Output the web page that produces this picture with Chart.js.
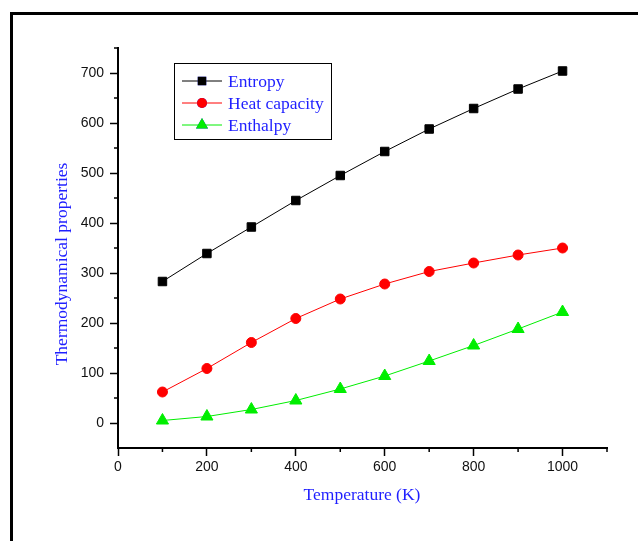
<!DOCTYPE html>
<html lang="en">
<head>
    <meta charset="UTF-8" />
    <title>Thermodynamical properties</title>
    <script src="https://cdn.jsdelivr.net/npm/chart.js"></script>
    <style>
        html, body { margin: 0; padding: 0; background: #fff; }
        #wrap { position: relative; width: 638px; height: 541px; }
    </style>
</head>
<body>
<div id="wrap"><canvas id="thermoChart" width="638" height="541"></canvas></div>

<script>
    // data
    const temperatures = [100, 200, 300, 400, 500, 600, 700, 800, 900, 1000];
    const entropy = [283, 339, 392, 445, 495, 543, 588, 629, 668, 704];
    const heatCapacity = [62, 109, 161, 209, 248, 278, 303, 320, 336, 350];
    const enthalpy = [5, 13, 27, 45, 68, 94, 124, 155, 188, 222];

    const xTicks = [0, 200, 400, 600, 800, 1000];
    const xMinorTicks = [100, 300, 500, 700, 900, 1100];
    const yTicks = [0, 100, 200, 300, 400, 500, 600, 700];
    const yMinorTicks = [50, 150, 250, 350, 450, 550, 650, 750];

    const blue = "#1f1fff";
    const serif = "17.5px 'Liberation Serif', 'Times New Roman', serif";

    // minor ticks, axis titles, legend box and the outer frame
    const extras = {
        id: "extras",
        afterDraw(chart) {
            const ctx = chart.ctx;
            const xs = chart.scales.x, ys = chart.scales.y;
            ctx.save();
            ctx.strokeStyle = "#000";
            ctx.lineWidth = 1.5;
            ctx.beginPath();
            xMinorTicks.forEach(v => {
                const px = xs.getPixelForValue(v);
                ctx.moveTo(px, xs.top);
                ctx.lineTo(px, xs.top + 4);
            });
            yMinorTicks.forEach(v => {
                const py = ys.getPixelForValue(v);
                ctx.moveTo(ys.right, py);
                ctx.lineTo(ys.right - 4, py);
            });
            ctx.stroke();

            // axis titles
            ctx.fillStyle = blue;
            ctx.font = serif;
            ctx.textAlign = "center";
            ctx.textBaseline = "middle";
            ctx.fillText("Temperature (K)", 362, 495);
            ctx.save();
            ctx.translate(62, 264);
            ctx.rotate(-Math.PI / 2);
            ctx.fillText("Thermodynamical properties", 0, 0);
            ctx.restore();

            // legend
            ctx.strokeStyle = "#000";
            ctx.lineWidth = 1;
            ctx.strokeRect(174.5, 63.5, 157, 76);
            ctx.textAlign = "left";
            chart.data.datasets.forEach((ds, i) => {
                const ly = 81 + i * 22;
                ctx.strokeStyle = ds.borderColor;
                ctx.lineWidth = 1;
                ctx.beginPath();
                ctx.moveTo(182, ly);
                ctx.lineTo(222, ly);
                ctx.stroke();
                Chart.helpers.drawPoint(ctx, {
                    pointStyle: ds.pointStyle,
                    radius: ds.pointRadius,
                    borderWidth: 0
                }, 202, ly);
                ctx.fillStyle = ds.pointBackgroundColor;
                ctx.fill();
                ctx.fillStyle = blue;
                ctx.fillText(ds.label, 228, ly + 1);
            });

            // frame around the figure
            ctx.strokeStyle = "#000";
            ctx.lineWidth = 3;
            ctx.beginPath();
            ctx.moveTo(11.5, 541);
            ctx.lineTo(11.5, 13.5);
            ctx.lineTo(638, 13.5);
            ctx.stroke();
            ctx.restore();
        }
    };

    const tickFont = { family: "'Liberation Sans', Arial, sans-serif", size: 14 };

    new Chart(document.getElementById("thermoChart"), {
        type: "line",
        data: {
            labels: temperatures,
            datasets: [{
                label: "Entropy",
                data: entropy,
                borderColor: "#000",
                pointBackgroundColor: "#000",
                pointBorderColor: "#000",
                pointStyle: "rect",
                pointRadius: 6,
                borderWidth: 1
            }, {
                label: "Heat capacity",
                data: heatCapacity,
                borderColor: "#ff0000",
                pointBackgroundColor: "#ff0000",
                pointBorderColor: "#ff0000",
                pointStyle: "circle",
                pointRadius: 5,
                borderWidth: 1
            }, {
                label: "Enthalpy",
                data: enthalpy,
                borderColor: "#00ee00",
                pointBackgroundColor: "#00ee00",
                pointBorderColor: "#00ee00",
                pointStyle: "triangle",
                pointRadius: 7,
                borderWidth: 1
            }]
        },
        options: {
            responsive: false,
            animation: false,
            layout: { padding: { left: 0, top: 48, right: 31, bottom: 0 } },
            plugins: { legend: { display: false }, tooltip: { enabled: false } },
            elements: { line: { tension: 0 }, point: { borderWidth: 0 } },
            scales: {
                x: {
                    type: "linear",
                    min: 0,
                    max: 1100,
                    afterBuildTicks: s => { s.ticks = xTicks.map(v => ({ value: v })); },
                    afterFit: s => { s.height = 93; },
                    border: { color: "#000", width: 2 },
                    grid: { drawOnChartArea: false, tickLength: 8, tickColor: "#000", tickWidth: 1.5 },
                    ticks: {
                        color: "#111",
                        font: tickFont,
                        padding: 3,
                        maxRotation: 0,
                        callback: v => String(v)
                    }
                },
                y: {
                    min: -50,
                    max: 750,
                    afterBuildTicks: s => { s.ticks = yTicks.map(v => ({ value: v })); },
                    afterFit: s => { s.width = 118; },
                    border: { color: "#000", width: 2 },
                    grid: { drawOnChartArea: false, tickLength: 8, tickColor: "#000", tickWidth: 1.5 },
                    ticks: {
                        color: "#111",
                        font: tickFont,
                        padding: 6,
                        callback: v => String(v)
                    }
                }
            }
        },
        plugins: [extras]
    });
</script>
</body>
</html>
